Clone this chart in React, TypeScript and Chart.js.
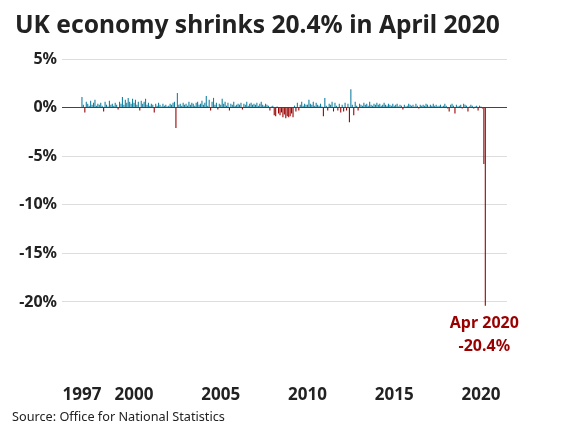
import { useEffect, useRef } from "react";
import { Chart, registerables } from "chart.js";
Chart.register(...registerables);

const startYear = 1997;
// Monthly GDP growth (%), Jan 1997 – Apr 2020
const monthlyGrowth: number[] = [
  // 1997
  1.1, 0.3, -0.5, 0.6, 0.4, 0.2, 0.7, 0.3, 0.5, 0.8, 0.2, 0.4,
  // 1998
  0.3, 0.5, 0.2, -0.4, 0.6, 0.3, 0.1, 0.7, 0.3, 0.4, 0.2, 0.5,
  // 1999
  0.3, -0.2, 0.6, 0.4, 1.1, 0.3, 0.8, 0.5, 1.0, 0.6, 0.4, 0.9,
  // 2000
  0.5, 0.8, 0.3, 0.6, -0.3, 0.7, 0.4, 0.6, 0.9, 0.3, 0.5, 0.2,
  // 2001
  0.4, 0.3, -0.5, 0.4, 0.2, 0.5, 0.3, 0.1, 0.4, 0.2, 0.3, 0.1,
  // 2002
  0.2, 0.4, 0.3, 0.5, 0.6, -2.1, 1.5, 0.3, 0.4, 0.2, 0.5, 0.3,
  // 2003
  0.4, 0.2, 0.6, 0.3, 0.5, 0.4, 0.2, 0.5, 0.6, 0.3, 0.4, 0.7,
  // 2004
  0.3, 0.5, 1.2, 0.2, 0.8, -0.3, 0.6, 1.0, 0.3, 0.5, -0.2, 0.4,
  // 2005
  0.3, 0.9, 0.4, 0.6, 0.2, 0.5, -0.3, 0.4, 0.3, 0.6, 0.2, 0.3,
  // 2006
  0.4, 0.3, 0.5, -0.2, 0.4, 0.3, 0.6, 0.2, 0.4, 0.5, 0.3, 0.4,
  // 2007
  0.3, 0.5, 0.2, 0.4, 0.6, 0.3, 0.2, 0.4, 0.3, 0.2, -0.3, 0.1,
  // 2008
  0.2, -0.8, -0.9, 0.1, -0.6, -0.8, -0.5, -1.0, -0.7, -1.1, -0.9, -1.0,
  // 2009
  -0.9, -0.6, -1.0, 0.2, -0.4, 0.5, -0.3, 0.3, 0.6, 0.2, 0.4, 0.3,
  // 2010
  0.3, 0.8, 0.4, 0.3, 0.6, 0.2, 0.5, 0.3, 0.2, 0.4, 0.1, -0.9,
  // 2011
  1.0, 0.2, -0.3, 0.4, 0.3, 0.6, -0.4, 0.5, 0.2, -0.3, 0.4, -0.5,
  // 2012
  0.3, -0.4, 0.5, -0.3, 0.4, -1.5, 1.9, 0.3, -0.8, 0.6, 0.2, -0.3,
  // 2013
  0.4, 0.3, 0.2, 0.5, 0.3, 0.4, 0.2, 0.6, 0.3, 0.2, 0.4, 0.3,
  // 2014
  0.5, 0.3, 0.4, 0.2, 0.3, 0.5, 0.3, 0.2, 0.4, 0.3, 0.2, 0.4,
  // 2015
  0.2, 0.3, 0.4, 0.1, 0.3, 0.2, -0.2, 0.3, 0.1, 0.2, 0.4, 0.3,
  // 2016
  0.2, 0.3, 0.1, 0.4, 0.2, -0.1, 0.3, 0.2, 0.3, 0.2, 0.4, 0.3,
  // 2017
  0.1, 0.3, 0.2, 0.4, 0.2, 0.3, 0.1, 0.2, 0.3, 0.1, 0.2, 0.4,
  // 2018
  0.2, -0.1, -0.4, 0.3, 0.4, 0.2, -0.6, 0.3, 0.1, 0.2, 0.3, -0.1,
  // 2019
  0.4, 0.3, 0.2, -0.4, 0.1, 0.3, 0.2, -0.1, 0.1, 0.2, -0.3, 0.2,
  // 2020
  0.1, -0.1, -5.8, -20.4,
];
const xTickYears = [1997, 2000, 2005, 2010, 2015, 2020];
const yTickValues = [5, 0, -5, -10, -15, -20];
const titleText = "UK economy shrinks 20.4% in April 2020";
const sourceText = "Source: Office for National Statistics";
const calloutLines = ["Apr 2020", "-20.4%"];

const BLUE = "#1380A1";
const RED = "#990000";
const TEXT = "#222222";
const FONT = "'Noto Sans', 'Open Sans', sans-serif";

export default function App() {
  const ref = useRef<HTMLCanvasElement>(null);

  useEffect(() => {
    document.body.style.margin = "0";
    const points = monthlyGrowth.map((v, i) => ({ x: startYear + i / 12, y: v }));
    const last = points[points.length - 1];

    const callout = {
      id: "callout",
      afterDatasetsDraw(chart: any) {
        const ctx = chart.ctx;
        const px = chart.scales.x.getPixelForValue(last.x);
        const py = chart.scales.y.getPixelForValue(last.y);
        ctx.save();
        ctx.fillStyle = RED;
        ctx.font = `bold 16px ${FONT}`;
        ctx.textAlign = "center";
        ctx.textBaseline = "middle";
        ctx.fillText(calloutLines[0], px - 1, py + 18);
        ctx.fillText(calloutLines[1], px - 1, py + 41);
        ctx.restore();
      },
    };

    const chart = new Chart(ref.current!, {
      type: "bar",
      data: {
        datasets: [
          {
            data: points as any,
            backgroundColor: points.map((p) => (p.y >= 0 ? BLUE : RED)),
            barPercentage: 0.75,
            categoryPercentage: 1,
          },
        ],
      },
      options: {
        animation: false,
        responsive: false,
        layout: { padding: { top: 59, right: 54, left: 0, bottom: 0 } },
        plugins: { legend: { display: false }, tooltip: { enabled: false } },
        scales: {
          x: {
            type: "linear",
            offset: false,
            min: 1995.85,
            max: 2021.5,
            afterBuildTicks: (s: any) => {
              s.ticks = xTickYears.map((v) => ({ value: v }));
            },
            afterFit: (s: any) => {
              s.height = 65;
            },
            grid: { display: false, offset: false },
            border: { display: false },
            ticks: {
              padding: 7,
              autoSkip: false,
              maxRotation: 0,
              color: TEXT,
              font: { family: FONT, size: 17, weight: "bold" },
              callback: (v: any) => String(v),
            },
          },
          y: {
            min: -27,
            max: 5,
            afterBuildTicks: (s: any) => {
              s.ticks = yTickValues.map((v) => ({ value: v }));
            },
            afterFit: (s: any) => {
              s.width = 62;
            },
            grid: {
              drawTicks: false,
              color: (c: any) => (c.tick && c.tick.value === 0 ? "#444444" : "#dddddd"),
              lineWidth: 1,
            },
            border: { display: false },
            ticks: {
              padding: 5,
              color: TEXT,
              font: { family: FONT, size: 16, weight: "bold" },
              callback: (v: any) => `${v}%`,
            },
          },
        },
      },
      plugins: [callout],
    } as any);

    return () => chart.destroy();
  }, []);

  return (
    <div style={{ position: "relative", width: 561, height: 435, background: "#fff" }}>
      <canvas ref={ref} width={561} height={435} style={{ position: "absolute", left: 0, top: 0 }} />
      <div
        style={{
          position: "absolute",
          left: 15,
          top: 11,
          fontFamily: FONT,
          fontWeight: 700,
          fontSize: 24.6,
          lineHeight: "25px",
          color: TEXT,
          whiteSpace: "nowrap",
        }}
      >
        {titleText}
      </div>
      <div
        style={{
          position: "absolute",
          left: 12,
          top: 409,
          fontFamily: FONT,
          fontSize: 12.7,
          lineHeight: "14px",
          color: TEXT,
          whiteSpace: "nowrap",
        }}
      >
        {sourceText}
      </div>
    </div>
  );
}
